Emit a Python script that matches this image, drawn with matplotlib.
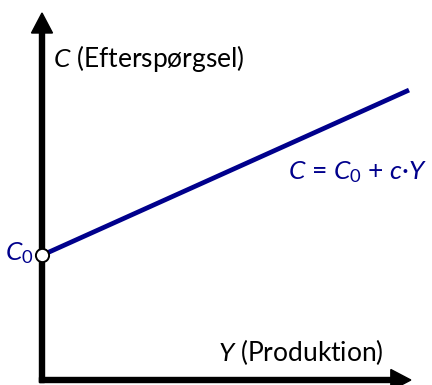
import numpy as np
import matplotlib
matplotlib.use("Agg")
import matplotlib.pyplot as plt

plt.rcParams["font.family"] = ["Lato", "DejaVu Sans"]
plt.rcParams["mathtext.fontset"] = "custom"
plt.rcParams["mathtext.rm"] = "Lato"
plt.rcParams["mathtext.it"] = "Lato:italic"

# consumption function C = C0 + c*Y
C0 = 3.4
c = 0.45
Y = np.array([0.0, 10.0])
C = C0 + c * Y

navy = "#00008c"
scale = 36.7  # pixels per data unit

fig = plt.figure(figsize=(4.32, 3.85), dpi=100)
ax = fig.add_axes([0, 0, 1, 1])
ax.set_xlim(-42 / scale, (432 - 42) / scale)
ax.set_ylim(-5 / scale, 380 / scale)
ax.axis("off")

# axes with arrow heads
w = 5 / scale
hw = 21 / scale
hl = 20 / scale
ax.arrow(0, -w / 2, 0, 10.0 + w / 2, width=w, head_width=hw, head_length=hl,
         length_includes_head=True, color="black", zorder=2)
ax.arrow(-w / 2, 0, 10.05 + w / 2, 0, width=w, head_width=hw, head_length=hl,
         length_includes_head=True, color="black", zorder=2)

ax.plot(Y, C, color=navy, lw=3.4, solid_capstyle="butt", zorder=3)
ax.plot([0], [C0], "o", ms=9.5, mfc="white", mec="black", mew=1.4, zorder=4)

fs = 19
ax.text(0.30, 8.53, "$C$ (Efterspørgsel)", fontsize=fs, va="baseline", ha="left")
ax.text(4.80, 0.52, "$Y$ (Produktion)", fontsize=fs, va="baseline", ha="left")
ax.text(10.49, 5.48, r"$C$ = $C_{\mathrm{0}}$ + $c$·$Y$", fontsize=fs, color=navy,
        va="baseline", ha="right")
ax.text(-0.22, 3.27, r"$C_{\mathrm{0}}$", fontsize=fs, color=navy, va="baseline", ha="right")

fig.savefig("out.png", dpi=100)
